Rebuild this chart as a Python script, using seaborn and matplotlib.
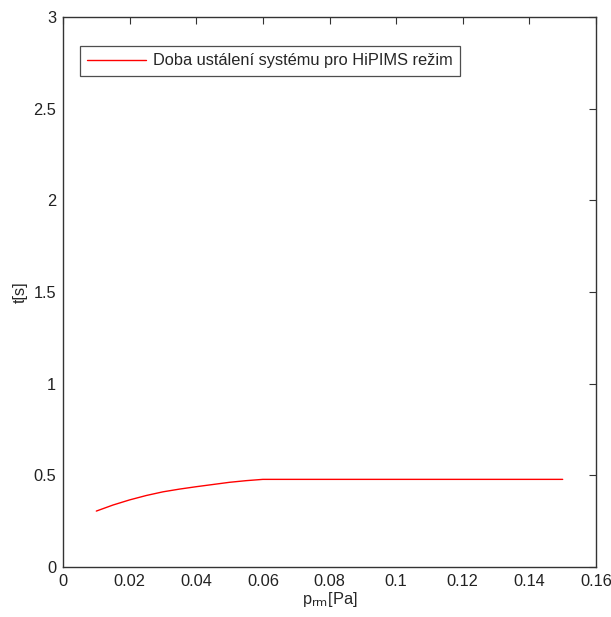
import matplotlib
matplotlib.use("Agg")
import matplotlib.pyplot as plt
import seaborn as sns
import pandas as pd

pressure = [0.01, 0.015, 0.02, 0.025, 0.03, 0.035, 0.04, 0.045, 0.05, 0.055, 0.06,
            0.07, 0.08, 0.09, 0.10, 0.11, 0.12, 0.13, 0.14, 0.15]
settle_time = [0.305, 0.338, 0.366, 0.390, 0.410, 0.425, 0.438, 0.450, 0.462, 0.471, 0.478,
               0.478, 0.478, 0.478, 0.478, 0.478, 0.478, 0.478, 0.478, 0.478]
series_label = "Doba ustálení systému pro HiPIMS režim"
xticks = [0, 0.02, 0.04, 0.06, 0.08, 0.1, 0.12, 0.14, 0.16]
xticklabels = ["0", "0.02", "0.04", "0.06", "0.08", "0.1", "0.12", "0.14", "0.16"]
yticks = [0, 0.5, 1, 1.5, 2, 2.5, 3]
yticklabels = ["0", "0.5", "1", "1.5", "2", "2.5", "3"]

df = pd.DataFrame({"p": pressure, "t": settle_time, "s": series_label})

sns.set_style("white")
plt.rcParams['font.family'] = ['Liberation Sans', 'DejaVu Sans']

fs = 11.8
fig = plt.figure(figsize=(6.11, 6.17), dpi=100)
ax = fig.add_axes([63/611, 50/617, 533/611, 550/617])

sns.lineplot(data=df, x="p", y="t", hue="s", palette=["#ff0000"], ax=ax, linewidth=1.0)

ax.set_xlim(0, 0.16)
ax.set_ylim(0, 3)
ax.set_xticks(xticks)
ax.set_xticklabels(xticklabels)
ax.set_yticks(yticks)
ax.set_yticklabels(yticklabels)
ax.tick_params(direction="in", length=5, width=0.8, color="#333333", labelsize=fs,
               top=True, right=True, labelcolor="#222222", pad=5)
for sp in ax.spines.values():
    sp.set_color("#333333")
    sp.set_linewidth(1.0)

ax.set_xlabel(r"p$_{\rm rm}$[Pa]", fontsize=fs, labelpad=1)
ax.set_ylabel("t[s]", fontsize=fs, labelpad=4)

leg = ax.legend(loc="upper left", bbox_to_anchor=(17/533, 1 - 29/550), fontsize=fs,
                frameon=True, fancybox=False, borderpad=0.45, handlelength=3.6,
                handletextpad=0.4, borderaxespad=0)
leg.get_frame().set_edgecolor("#222222")
leg.get_frame().set_linewidth(0.9)

fig.savefig("out.png", dpi=100)
